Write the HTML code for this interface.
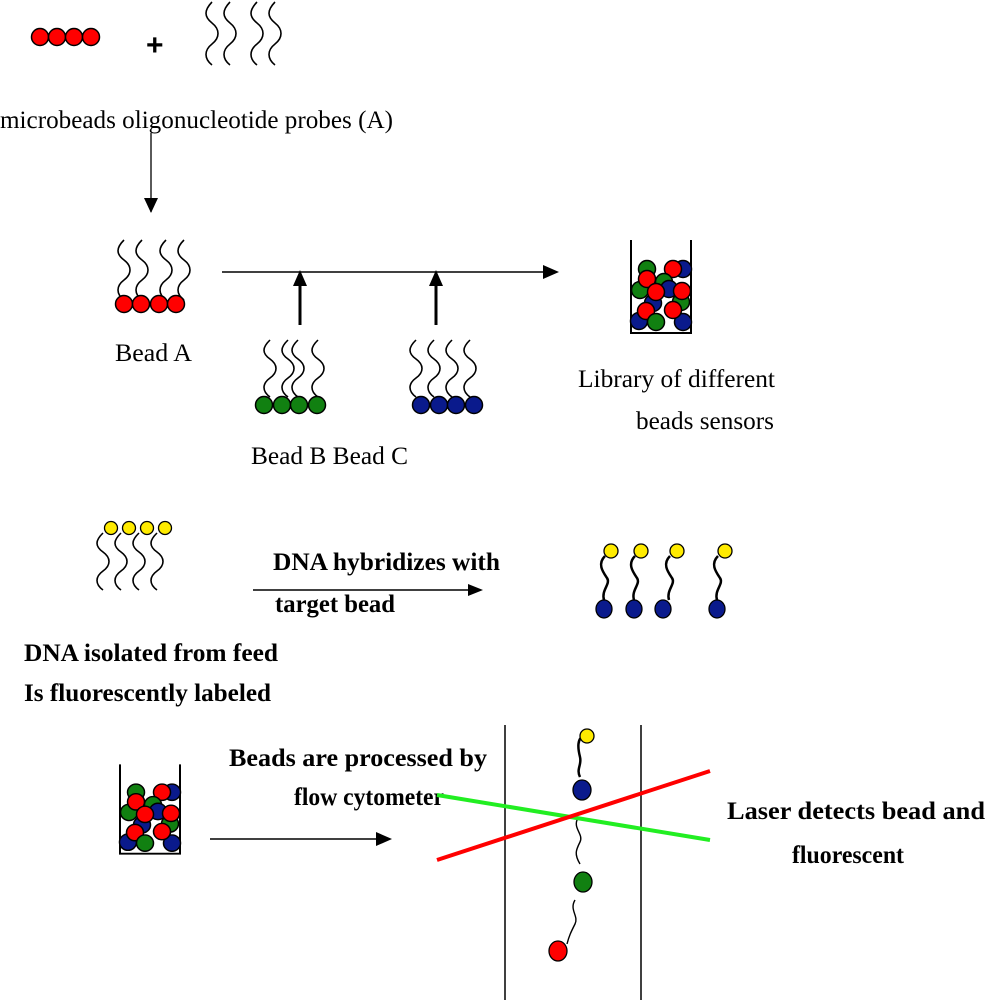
<!DOCTYPE html>
<html><head><meta charset="utf-8"><style>
html,body{margin:0;padding:0;background:#fff;}
svg{display:block;}
.t{font-family:"Liberation Serif",serif;font-size:25px;fill:#000;}
.b{font-family:"Liberation Serif",serif;font-size:25px;font-weight:bold;fill:#000;}
</style></head><body>
<svg width="985" height="1000" viewBox="0 0 985 1000" xmlns="http://www.w3.org/2000/svg">
<defs>
<path id="sq" d="M0 0 c-8 8 -8 14 0 20 s8 14 0 20 s-8 14 0 20" fill="none" stroke="#000" stroke-width="1.6"/>
<g id="bk" stroke="#000" stroke-width="1.5">
<polyline points="631,240 631,333 691,333 691,240" fill="none" stroke-width="2"/>
<circle cx="647" cy="269" r="8.5" fill="#118011"/>
<circle cx="683" cy="269" r="8.5" fill="#0a1a8c"/>
<circle cx="673" cy="269" r="8.5" fill="#f00"/>
<circle cx="664" cy="282" r="8.5" fill="#118011"/>
<circle cx="640" cy="290" r="8.5" fill="#118011"/>
<circle cx="647" cy="279" r="8.5" fill="#f00"/>
<circle cx="669" cy="289" r="8.5" fill="#0a1a8c"/>
<circle cx="681" cy="302" r="8.5" fill="#118011"/>
<circle cx="653" cy="303" r="8.5" fill="#0a1a8c"/>
<circle cx="656" cy="292" r="8.5" fill="#f00"/>
<circle cx="682" cy="291" r="8.5" fill="#f00"/>
<circle cx="639" cy="321" r="8.5" fill="#0a1a8c"/>
<circle cx="646" cy="311" r="8.5" fill="#f00"/>
<circle cx="656" cy="322" r="8.5" fill="#118011"/>
<circle cx="683" cy="322" r="8.5" fill="#0a1a8c"/>
<circle cx="673" cy="310" r="8.5" fill="#f00"/>
</g>
</defs>

<!-- top row -->
<g stroke="#000" stroke-width="1.5" fill="#f00">
<circle cx="40" cy="37" r="8.5"/><circle cx="57" cy="37" r="8.5"/><circle cx="74" cy="37" r="8.5"/><circle cx="91" cy="37" r="8.5"/>
</g>
<text x="146" y="55" style="font-family:'Liberation Sans',sans-serif;font-size:30px;font-weight:bold">+</text>
<use href="#sq" transform="translate(212,2) scale(1,1.05)"/>
<use href="#sq" transform="translate(230,2) scale(1,1.05)"/>
<use href="#sq" transform="translate(257,2) scale(1,1.05)"/>
<use href="#sq" transform="translate(275,2) scale(1,1.05)"/>
<text class="t" x="0" y="128" textLength="393" lengthAdjust="spacingAndGlyphs">microbeads oligonucleotide probes (A)</text>
<line x1="151" y1="133" x2="151" y2="212" stroke="#000" stroke-width="1.3"/>
<path d="M144 198 L158 198 L151 213 Z" fill="#000"/>

<!-- Bead A -->
<use href="#sq" transform="translate(124,240)"/>
<use href="#sq" transform="translate(142,240)"/>
<use href="#sq" transform="translate(166,240)"/>
<use href="#sq" transform="translate(184,240)"/>
<g stroke="#000" stroke-width="1.5" fill="#f00">
<circle cx="124" cy="304" r="8.5"/><circle cx="141" cy="304" r="8.5"/><circle cx="159" cy="304" r="8.5"/><circle cx="176" cy="304" r="8.5"/>
</g>
<text class="t" x="115" y="361" textLength="77" lengthAdjust="spacingAndGlyphs">Bead A</text>

<line x1="222" y1="272" x2="545" y2="272" stroke="#000" stroke-width="1.5"/>
<path d="M543 265 L559 272 L543 279 Z" fill="#000"/>
<line x1="300" y1="325" x2="300" y2="285" stroke="#000" stroke-width="3"/>
<path d="M293 286 L300 270 L307 286 Z" fill="#000"/>
<line x1="436" y1="325" x2="436" y2="285" stroke="#000" stroke-width="3"/>
<path d="M429 286 L436 270 L443 286 Z" fill="#000"/>

<use href="#sq" transform="translate(270,340) scale(1,0.95)"/>
<use href="#sq" transform="translate(288,340) scale(1,0.95)"/>
<use href="#sq" transform="translate(298,340) scale(1,0.95)"/>
<use href="#sq" transform="translate(318,340) scale(1,0.95)"/>
<g stroke="#000" stroke-width="1.5" fill="#118011">
<circle cx="264" cy="405" r="8.5"/><circle cx="282" cy="405" r="8.5"/><circle cx="299" cy="405" r="8.5"/><circle cx="317" cy="405" r="8.5"/>
</g>
<use href="#sq" transform="translate(416,340) scale(1,0.95)"/>
<use href="#sq" transform="translate(434,340) scale(1,0.95)"/>
<use href="#sq" transform="translate(452,340) scale(1,0.95)"/>
<use href="#sq" transform="translate(470,340) scale(1,0.95)"/>
<g stroke="#000" stroke-width="1.5" fill="#0a1a8c">
<circle cx="421" cy="405" r="8.5"/><circle cx="439" cy="405" r="8.5"/><circle cx="456" cy="405" r="8.5"/><circle cx="474" cy="405" r="8.5"/>
</g>
<text class="t" x="251" y="464" textLength="157" lengthAdjust="spacingAndGlyphs">Bead B Bead C</text>

<use href="#bk"/>
<text class="t" x="578" y="387" textLength="197" lengthAdjust="spacingAndGlyphs">Library of different</text>
<text class="t" x="636" y="429" textLength="138" lengthAdjust="spacingAndGlyphs">beads sensors</text>

<!-- hybridization -->
<use href="#sq" transform="translate(103,533) scale(1,0.95)"/>
<use href="#sq" transform="translate(121,533) scale(1,0.95)"/>
<use href="#sq" transform="translate(139,533) scale(1,0.95)"/>
<use href="#sq" transform="translate(157,533) scale(1,0.95)"/>
<g stroke="#000" stroke-width="1.3" fill="#ffeb00">
<circle cx="111" cy="528" r="6.5"/><circle cx="129" cy="528" r="6.5"/><circle cx="147" cy="528" r="6.5"/><circle cx="165" cy="528" r="6.5"/>
</g>
<text class="b" x="273" y="570" textLength="227" lengthAdjust="spacingAndGlyphs">DNA hybridizes with</text>
<line x1="253" y1="590" x2="470" y2="590" stroke="#000" stroke-width="1.5"/>
<path d="M468 584 L483 590 L468 596 Z" fill="#000"/>
<text class="b" x="275" y="612" textLength="120" lengthAdjust="spacingAndGlyphs">target bead</text>

<g stroke="#000" stroke-width="2.5" fill="none">
<path d="M605 556 c-8 8 -2 16 2 22 s-6 12 -3 22"/>
<path d="M635 556 c-8 8 -2 16 2 22 s-6 12 -3 22"/>
<path d="M670 556 c-8 8 -2 16 2 22 s-6 12 -3 22"/>
<path d="M718 556 c-8 8 -2 16 2 22 s-6 12 -3 22"/>
</g>
<g stroke="#000" stroke-width="1.3" fill="#ffeb00">
<circle cx="611" cy="551" r="7"/><circle cx="641" cy="551" r="7"/><circle cx="677" cy="551" r="7"/><circle cx="725" cy="551" r="7"/>
</g>
<g stroke="#000" stroke-width="1.3" fill="#0a1a8c">
<ellipse cx="604" cy="609" rx="8" ry="9"/><ellipse cx="634" cy="609" rx="8" ry="9"/><ellipse cx="663" cy="609" rx="8" ry="9"/><ellipse cx="717" cy="609" rx="8" ry="9"/>
</g>

<text class="b" x="24" y="661" textLength="254" lengthAdjust="spacingAndGlyphs">DNA isolated from feed</text>
<text class="b" x="24" y="701" textLength="247" lengthAdjust="spacingAndGlyphs">Is fluorescently labeled</text>

<!-- bottom -->
<use href="#bk" transform="translate(-511,534) scale(1,0.96)"/>
<text class="b" x="229" y="766" textLength="258" lengthAdjust="spacingAndGlyphs">Beads are processed by</text>
<text class="b" x="294" y="805" textLength="150" lengthAdjust="spacingAndGlyphs">flow cytometer</text>
<line x1="210" y1="839" x2="378" y2="839" stroke="#000" stroke-width="1.5"/>
<path d="M376 832 L392 839 L376 846 Z" fill="#000"/>

<line x1="505" y1="725" x2="505" y2="1000" stroke="#000" stroke-width="1.5"/>
<line x1="641" y1="725" x2="641" y2="1000" stroke="#000" stroke-width="1.5"/>

<path d="M586 735 c-10 2 -8 14 -6 22 s-4 12 0 20" fill="none" stroke="#000" stroke-width="2.5"/>
<path d="M578 818 c-6 10 6 16 2 24 s-6 12 0 22" fill="none" stroke="#000" stroke-width="1.4"/>
<path d="M575 900 c-6 10 4 16 0 24 s-6 12 -8 20" fill="none" stroke="#000" stroke-width="1.4"/>
<g stroke="#000" stroke-width="1.3">
<circle cx="587" cy="736" r="7" fill="#ffeb00"/>
<ellipse cx="582" cy="790" rx="9" ry="10" fill="#0a1a8c"/>
<ellipse cx="583" cy="882" rx="9" ry="10" fill="#118011"/>
<ellipse cx="558" cy="951" rx="9" ry="10" fill="#f00"/>
</g>
<line x1="437" y1="795" x2="710" y2="840" stroke="#22ee22" stroke-width="4"/>
<line x1="437" y1="860" x2="710" y2="771" stroke="#f00" stroke-width="4"/>

<text class="b" x="727" y="819" textLength="258" lengthAdjust="spacingAndGlyphs">Laser detects bead and</text>
<text class="b" x="792" y="863" textLength="112" lengthAdjust="spacingAndGlyphs">fluorescent</text>
</svg>
</body></html>
